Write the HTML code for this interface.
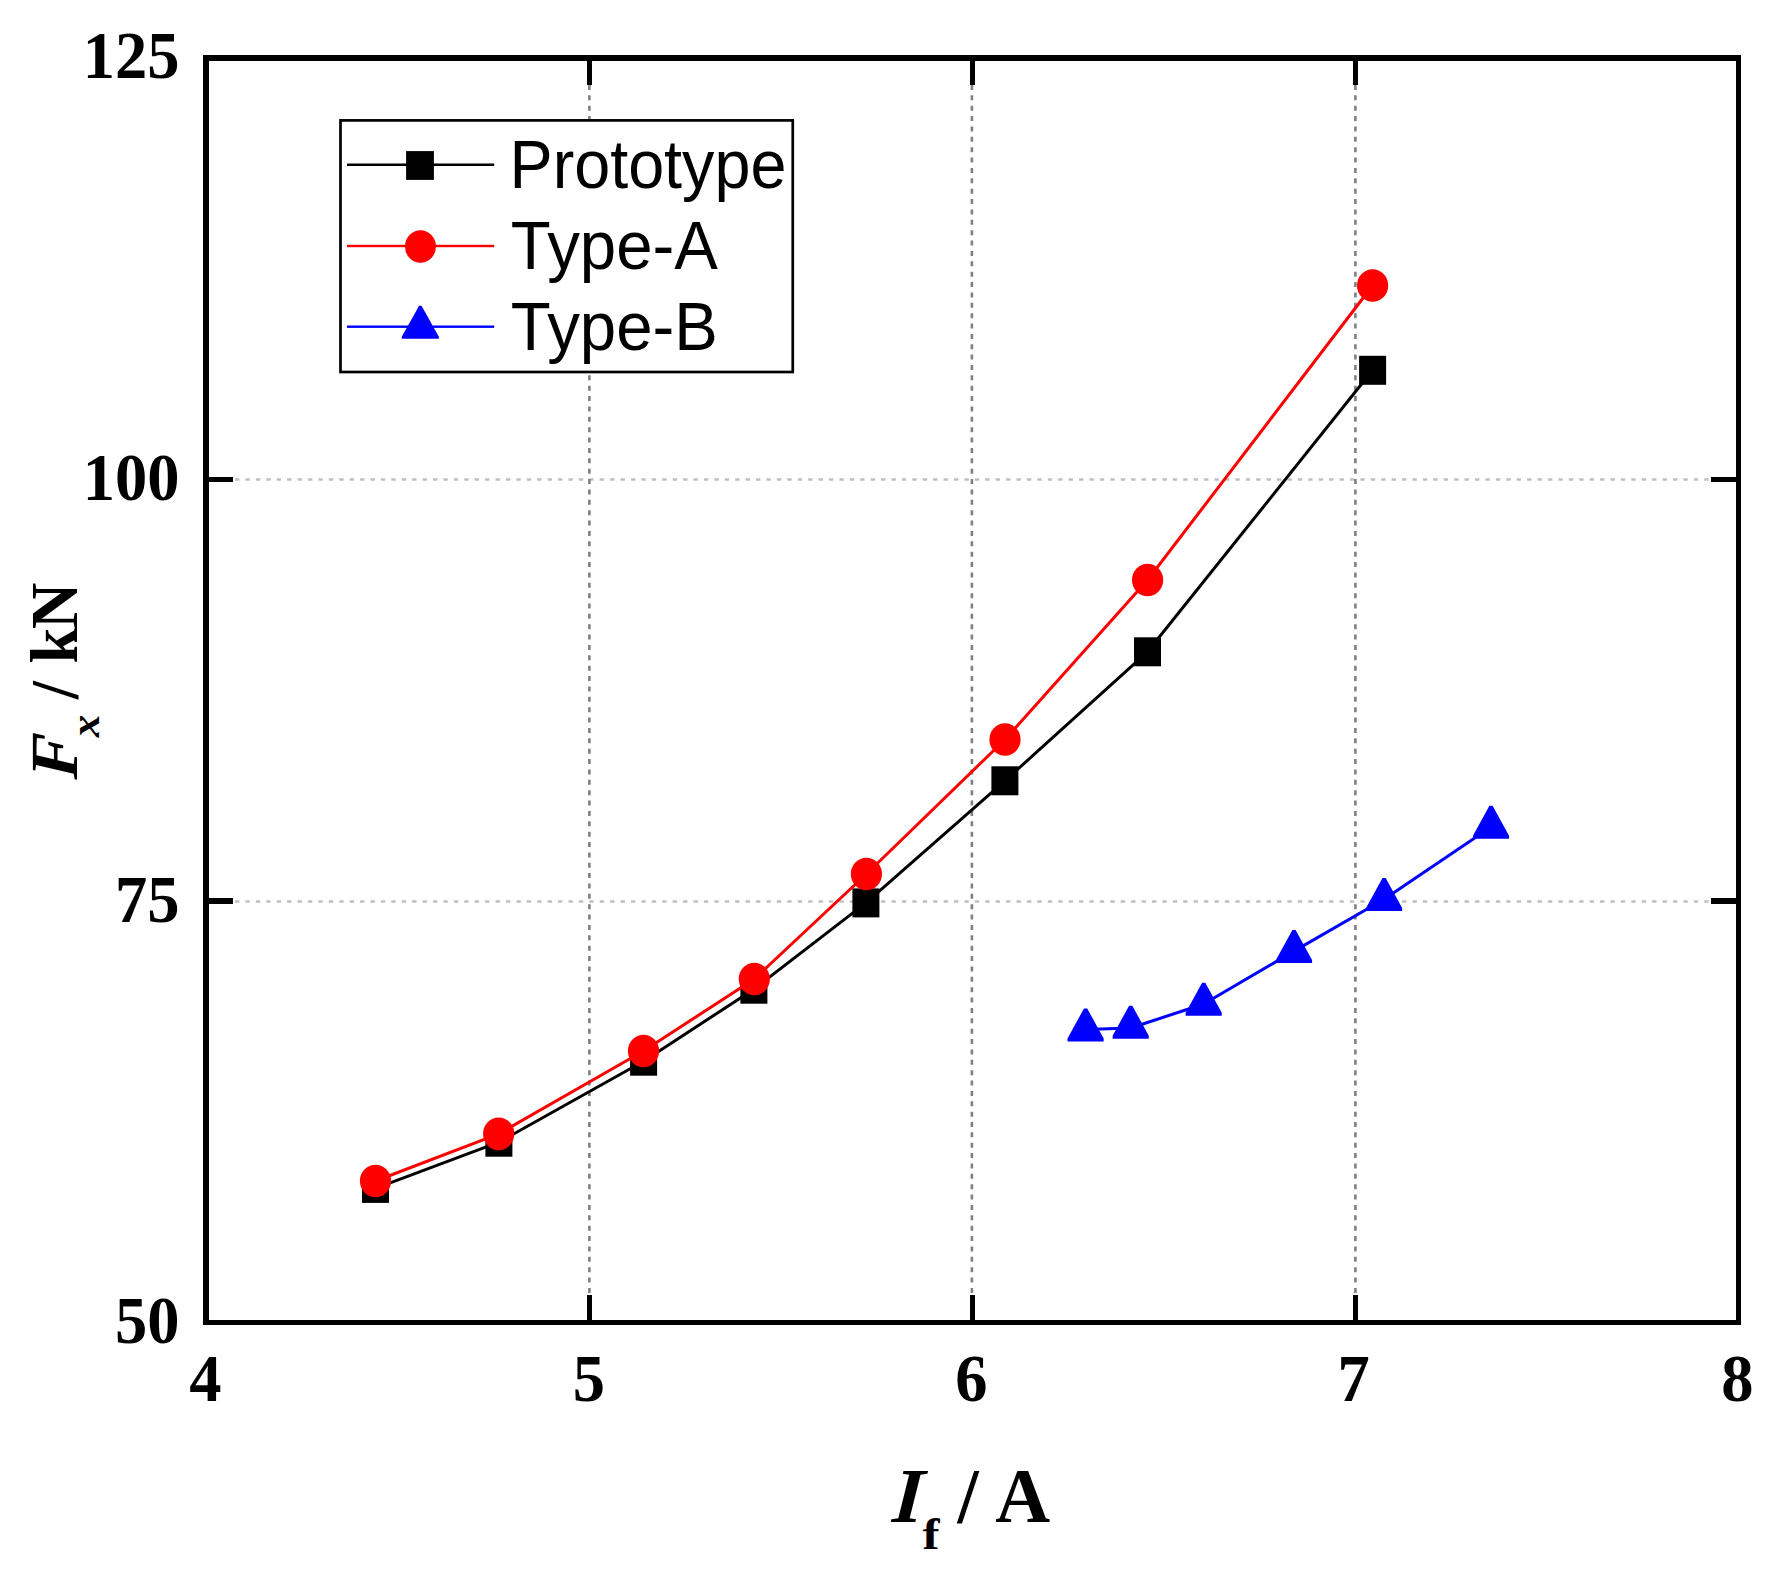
<!DOCTYPE html>
<html lang="en"><head><meta charset="utf-8"><title>Fx vs If</title>
<style>html,body{margin:0;padding:0;background:#fff;}svg{display:block;}.ser{font-family:"Liberation Serif",serif;font-weight:bold;fill:#000;}.san{font-family:"Liberation Sans",sans-serif;fill:#000;}</style></head><body>
<svg width="1785" height="1571" viewBox="0 0 1785 1571">
<rect x="0" y="0" width="1785" height="1571" fill="#fff"/>
<g fill="none">
<line x1="235" y1="479.5" x2="1710" y2="479.5" stroke="#c0c0c0" stroke-width="2.7" stroke-dasharray="4.4 6.020"/>
<line x1="235" y1="901.5" x2="1710" y2="901.5" stroke="#c0c0c0" stroke-width="2.7" stroke-dasharray="4.4 6.020"/>
<line x1="589.4" y1="85" x2="589.4" y2="1295" stroke="#808080" stroke-width="2.6" stroke-dasharray="5 5.370"/>
<line x1="971.9" y1="85" x2="971.9" y2="1295" stroke="#808080" stroke-width="2.6" stroke-dasharray="5 5.370"/>
<line x1="1355.4" y1="85" x2="1355.4" y2="1295" stroke="#808080" stroke-width="2.6" stroke-dasharray="5 5.370"/>
</g>
<g fill="#000" shape-rendering="crispEdges">
<rect x="203" y="55" width="6" height="1270"/>
<rect x="203" y="55" width="1538" height="6"/>
<rect x="1736" y="55" width="5" height="1270"/>
<rect x="203" y="1320" width="1538" height="5"/>
<rect x="587" y="61" width="5" height="24"/>
<rect x="587" y="1295" width="5" height="25"/>
<rect x="969.5" y="61" width="5" height="24"/>
<rect x="969.5" y="1295" width="5" height="25"/>
<rect x="1353" y="61" width="5" height="24"/>
<rect x="1353" y="1295" width="5" height="25"/>
<rect x="209" y="477" width="24" height="5"/>
<rect x="1711" y="477" width="25" height="5"/>
<rect x="209" y="898" width="24" height="6"/>
<rect x="1711" y="898" width="25" height="6"/>
</g>
<polyline fill="none" stroke="#000" stroke-width="3.0" stroke-linejoin="round" points="375.5,1188.4 498.9,1142.2 643.6,1061.2 753.9,989.2 865.9,902.9 1004.9,780.8 1147.5,651.8 1372.6,370.3"/>
<rect x="362.0" y="1173.9" width="27" height="29" fill="#000"/>
<rect x="485.4" y="1127.7" width="27" height="29" fill="#000"/>
<rect x="630.1" y="1046.7" width="27" height="29" fill="#000"/>
<rect x="740.4" y="974.7" width="27" height="29" fill="#000"/>
<rect x="852.4" y="888.4" width="27" height="29" fill="#000"/>
<rect x="991.4" y="766.3" width="27" height="29" fill="#000"/>
<rect x="1134.0" y="637.3" width="27" height="29" fill="#000"/>
<rect x="1359.1" y="355.8" width="27" height="29" fill="#000"/>
<polyline fill="none" stroke="#f00" stroke-width="3.0" stroke-linejoin="round" points="375.5,1181.0 498.7,1133.9 643.5,1051.0 754.3,979.0 866.4,874.0 1005.0,739.5 1147.6,580.0 1372.6,285.5"/>
<ellipse cx="375.5" cy="1181.0" rx="15.6" ry="16.3" fill="#f00"/>
<ellipse cx="498.7" cy="1133.9" rx="15.6" ry="16.3" fill="#f00"/>
<ellipse cx="643.5" cy="1051" rx="15.6" ry="16.3" fill="#f00"/>
<ellipse cx="754.3" cy="979" rx="15.6" ry="16.3" fill="#f00"/>
<ellipse cx="866.4" cy="874" rx="15.6" ry="16.3" fill="#f00"/>
<ellipse cx="1005" cy="739.5" rx="15.6" ry="16.3" fill="#f00"/>
<ellipse cx="1147.6" cy="580" rx="15.6" ry="16.3" fill="#f00"/>
<ellipse cx="1372.6" cy="285.5" rx="15.6" ry="16.3" fill="#f00"/>
<polyline fill="none" stroke="#00f" stroke-width="3.0" stroke-linejoin="round" points="1085.6,1029.6 1130.7,1028.0 1203.7,1004.0 1294.0,951.1 1384.1,899.2 1491.0,827.1"/>
<polygon fill="#00f" points="1084.00,1008.40 1087.20,1008.40 1103.65,1038.40 1103.65,1041.40 1067.55,1041.40 1067.55,1038.40"/>
<polygon fill="#00f" points="1129.10,1005.70 1132.30,1005.70 1148.75,1035.70 1148.75,1038.70 1112.65,1038.70 1112.65,1035.70"/>
<polygon fill="#00f" points="1202.10,982.80 1205.30,982.80 1221.75,1012.80 1221.75,1015.80 1185.65,1015.80 1185.65,1012.80"/>
<polygon fill="#00f" points="1292.40,929.90 1295.60,929.90 1312.05,959.90 1312.05,962.90 1275.95,962.90 1275.95,959.90"/>
<polygon fill="#00f" points="1382.50,878.00 1385.70,878.00 1402.15,908.00 1402.15,911.00 1366.05,911.00 1366.05,908.00"/>
<polygon fill="#00f" points="1489.40,805.85 1492.60,805.85 1509.05,835.85 1509.05,838.85 1472.95,838.85 1472.95,835.85"/>
<rect x="340.5" y="120.4" width="452.25" height="251.6" fill="#fff" stroke="#000" stroke-width="2.7"/>
<rect x="347" y="163.5" width="147.2" height="2.5" fill="#000"/>
<rect x="347" y="244.8" width="147.2" height="2.4" fill="#f00"/>
<rect x="347" y="325.5" width="147.2" height="2.4" fill="#00f"/>
<rect x="406.1" y="151.1" width="27.8" height="28.8" fill="#000"/>
<ellipse cx="420.45" cy="246.5" rx="15.5" ry="16.2" fill="#f00"/>
<polygon fill="#00f" points="419.10,305.80 421.50,305.80 438.85,336.80 438.85,338.80 401.75,338.80 401.75,336.80"/>
<text class="san" transform="translate(509.49459999999993,188) scale(1,1.06)" font-size="64.7" >Prototype</text>
<text class="san" transform="translate(510.84424999999993,269.4) scale(1.01,1.06)" font-size="64.7" >Type-A</text>
<text class="san" transform="translate(510.84424999999993,350) scale(1.01,1.06)" font-size="64.7" >Type-B</text>
<text class="ser" transform="translate(179.6,78.1) scale(1,1.06)" font-size="64.5" text-anchor="end">125</text>
<text class="ser" transform="translate(179.6,500.0) scale(1,1.06)" font-size="64.5" text-anchor="end">100</text>
<text class="ser" transform="translate(179.6,921.8) scale(1,1.06)" font-size="64.5" text-anchor="end">75</text>
<text class="ser" transform="translate(179.6,1343.4) scale(1,1.06)" font-size="64.5" text-anchor="end">50</text>
<text class="ser" transform="translate(205.4,1401.0) scale(1,1.06)" font-size="64.5" text-anchor="middle">4</text>
<text class="ser" transform="translate(588.9,1401.0) scale(1,1.06)" font-size="64.5" text-anchor="middle">5</text>
<text class="ser" transform="translate(971.4,1401.0) scale(1,1.06)" font-size="64.5" text-anchor="middle">6</text>
<text class="ser" transform="translate(1353.6,1401.0) scale(1,1.06)" font-size="64.5" text-anchor="middle">7</text>
<text class="ser" transform="translate(1737.3,1401.0) scale(1,1.06)" font-size="64.5" text-anchor="middle">8</text>
<text class="ser" transform="translate(891.5,1521.8) scale(1.04,1.025) skewX(-4)" font-size="76" font-style="italic">I</text>
<text class="ser" transform="translate(922.5,1549) scale(1.11,0.98)" font-size="46">f</text>
<text class="ser" transform="translate(0,1521.8) scale(1,1.04)" font-size="76"><tspan x="957.5 978.6 995.2">/ A</tspan></text>
<text class="ser" transform="translate(76.9,779.8) rotate(-90) scale(1.06,1.045) skewX(-3)" font-size="64.5" font-style="italic">F</text>
<text class="ser" transform="translate(99.0,737.35) rotate(-90) scale(1.13,0.99)" font-size="40" font-style="italic">x</text>
<text class="ser" transform="translate(76.9,780) rotate(-90) scale(1,1.045)" font-size="64.5"><tspan x="80.9 98.8 116.4 150.7">/ kN</tspan></text>
</svg></body></html>
